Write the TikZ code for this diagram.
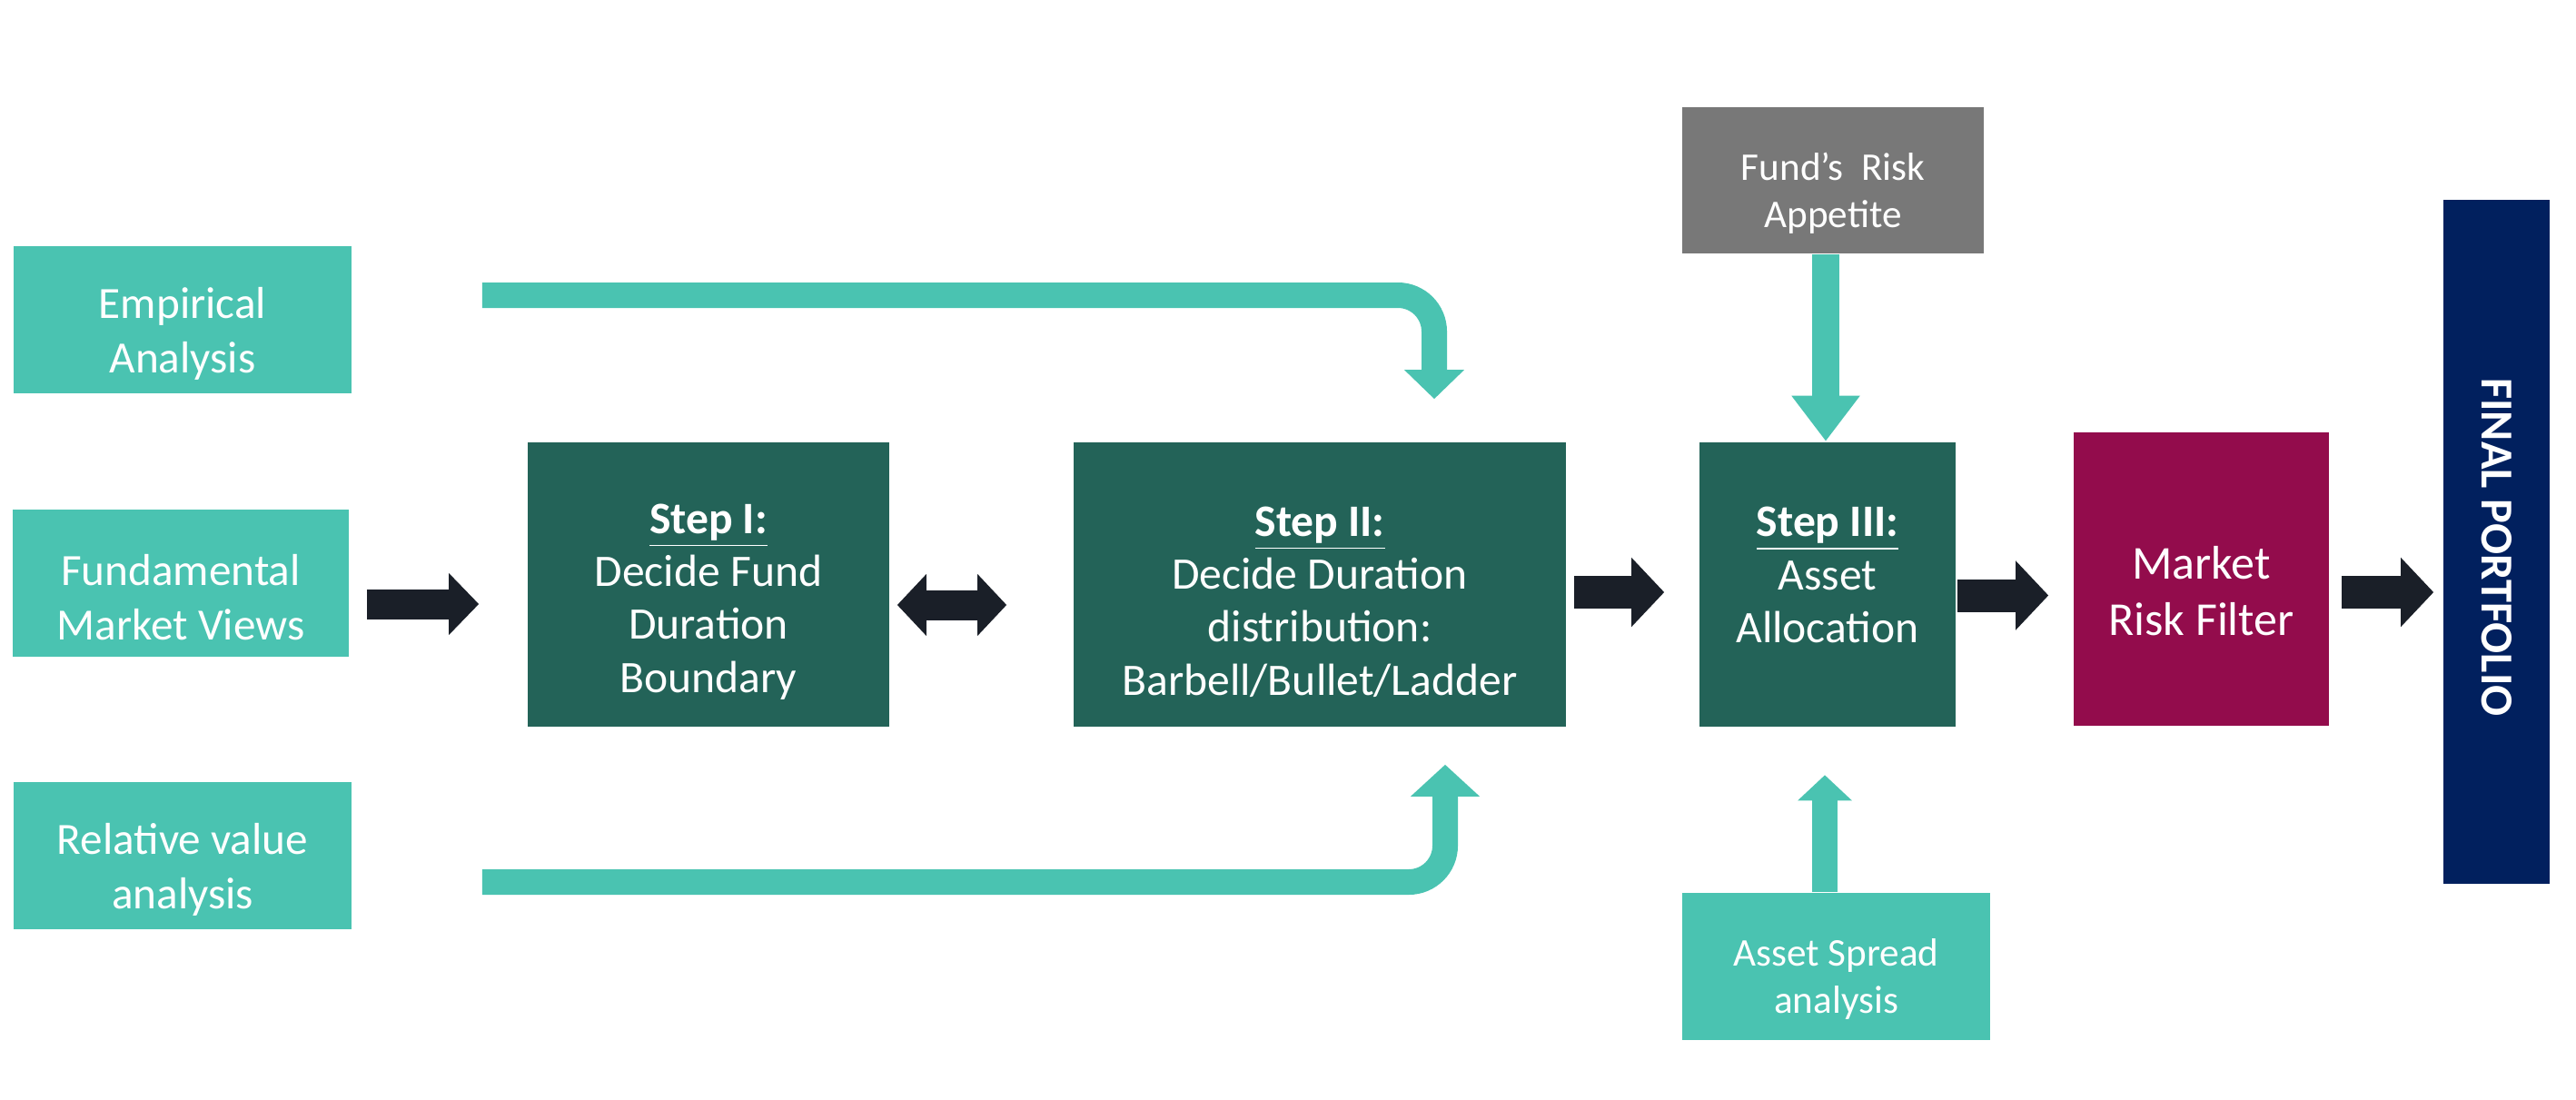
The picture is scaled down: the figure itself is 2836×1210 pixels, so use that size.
\documentclass[tikz,border=0pt]{standalone}
\usepackage{fontspec}
\setmainfont{Carlito}
\usetikzlibrary{arrows.meta}
\definecolor{lightteal}{HTML}{4AC3B1}
\definecolor{darkgreen}{HTML}{236358}
\definecolor{riskgray}{HTML}{787878}
\definecolor{filtermag}{HTML}{930C4C}
\definecolor{navyblue}{HTML}{01205E}
\definecolor{arrowblack}{HTML}{1A1F28}
\newcommand{\vpad}[1]{\rule{0pt}{#1}}
\tikzset{
  box/.style={inner sep=0pt, align=center, text=white},
  inbox/.style={box, fill=lightteal, minimum width=93pt, minimum height=40.5pt, font=\fontsize{12.3}{15}\selectfont},
  stepbox/.style={box, fill=darkgreen, minimum height=78.25pt, font=\fontsize{12.4}{14.6}\selectfont},
  sidebox/.style={box, minimum height=40.5pt, font=\fontsize{10.8}{13}\selectfont},
  blkarrow/.style={draw=arrowblack, line width=9pt, -{Triangle[width=18.5pt,length=9pt]}},
  tealarrow/.style={draw=lightteal, line width=7pt, rounded corners=10pt}
}
\begin{document}
\begin{tikzpicture}[x=0.25pt, y=-0.25pt]
        \useasboundingbox (0,0) rectangle (2836,1210);
        \node [inbox] (EA)  at (201, 352)   {\vpad{16.4pt}Empirical\\Analysis};
        \node [inbox, minimum width=92.5pt] (FMV) at (199, 641.5) {\vpad{16.4pt}Fundamental\\Market Views};
        \node [inbox] (RVA) at (201, 941.5) {\vpad{16.4pt}Relative value\\analysis};
        \node [stepbox, minimum width=99.5pt]  (S1) at (780, 643.5)  {\vpad{17.6pt}\underline{\textbf{Step I:}}\\Decide Fund\\Duration\\Boundary};
        \node [stepbox, minimum width=135.5pt] (S2) at (1453, 643.5) {\vpad{17.6pt}\underline{\textbf{Step II:}}\\Decide Duration\\distribution:\\Barbell/Bullet/Ladder};
        \node [stepbox, minimum width=70.5pt]  (S3) at (2012, 643)   {\vpad{17.6pt}\underline{\textbf{Step III:}}\\Asset\\Allocation\\\mbox{}};
        \node [box, fill=filtermag, minimum width=70.25pt, minimum height=80.75pt, font=\fontsize{13}{15.5}\selectfont] (MRF) at (2423.5, 637.5) {\vpad{15.8pt}Market\\Risk Filter};
        \node [box, fill=navyblue, minimum width=29.25pt, minimum height=188.25pt] (FP) at (2748.5, 596.5) {};
        \node [text=white, rotate=-90, font=\fontsize{12.6}{15}\selectfont\bfseries] (FPT) at ([shift={(0,6)}]FP.center) {FINAL PORTFOLIO};
        \node [sidebox, fill=riskgray, minimum width=83pt, minimum height=40.25pt] (FRA) at (2018, 198.5) {\vpad{14.5pt}Fund’s\ \ Risk\\Appetite};
        \node [sidebox, fill=lightteal, minimum width=84.75pt] (ASA) at (2021.5, 1064) {\vpad{14.5pt}Asset Spread\\analysis};
        \draw [blkarrow, line width=8.25pt, -{Triangle[width=16.5pt,length=8.25pt]}] ([shift={(19,23.5)}]FMV.east) -- ([shift={(-53,21.5)}]S1.west);
        \draw [blkarrow, line width=8.25pt, {Triangle[width=16.5pt,length=8pt]}-{Triangle[width=16.5pt,length=8pt]}] ([shift={(8,22.5)}]S1.east) -- ([shift={(-73,22.5)}]S2.west);
        \draw [blkarrow] ([shift={(8,8.5)}]S2.east) -- ([shift={(-38,9)}]S3.west);
        \draw [blkarrow] ([shift={(1,12.5)}]S3.east) -- ([shift={(-27,18)}]MRF.west);
        \draw [blkarrow] ([shift={(13,14.5)}]MRF.east) -- ([shift={(-10,55.5)}]FP.west);
        \draw [tealarrow, -{Triangle[width=16pt,length=8pt]}] ([shift={(143,-27)}]EA.east) -| ([shift={(126,-47)}]S2.north);
        \draw [tealarrow, -{Triangle[width=18.5pt,length=8.75pt]}] ([shift={(143,29.5)}]RVA.east) -| ([shift={(138,41)}]S2.south);
        \draw [tealarrow, line width=7.5pt, -{Triangle[width=18pt,length=12.5pt]}] ([shift={(-8,0)}]FRA.south) -- ([shift={(-2,0)}]S3.north);
        \draw [tealarrow, -{Triangle[width=14.5pt,length=7pt]}] ([shift={(-12.5,0)}]ASA.north) -- ([shift={(-3,53)}]S3.south);
\end{tikzpicture}
\end{document}
